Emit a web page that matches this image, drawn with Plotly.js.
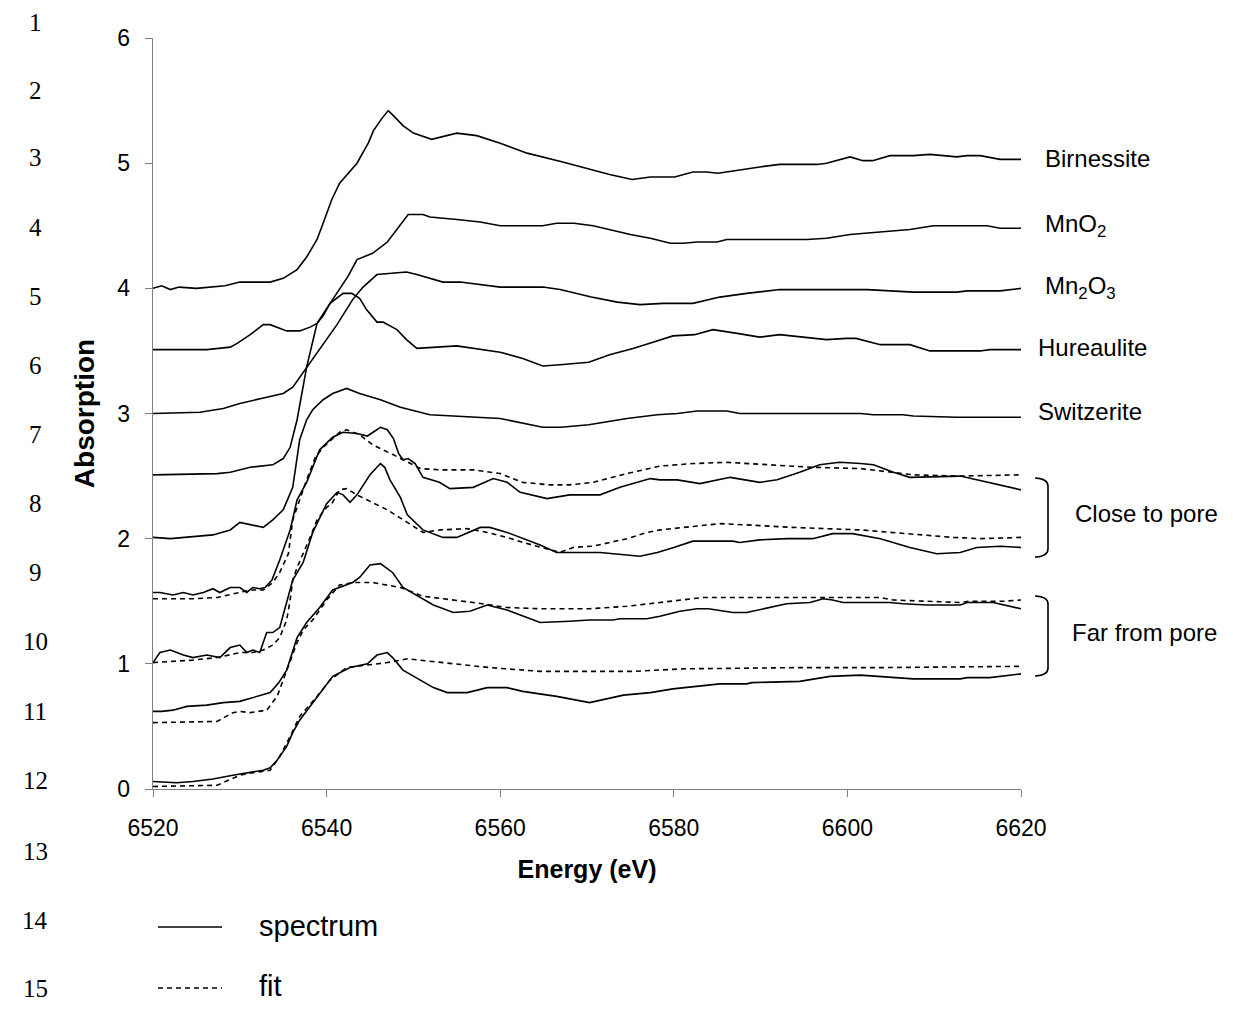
<!DOCTYPE html>
<html>
<head>
<meta charset="utf-8">
<script src="https://cdn.plot.ly/plotly-3.0.1.min.js"></script>
<style>
html,body{margin:0;padding:0;background:#fff;}
#chart{width:1233px;height:1014px;}
</style>
</head>
<body>
<div id="chart"></div>
<script>
// ---------- data (energy in eV, absorption offset as plotted) ----------
const birnE = [6520,6521,6522,6523,6525,6528.3,6530,6533.5,6535,6536.6,6537.7,6538.9,6539.6,6540.6,6541.5,6543.5,6544.8,6545.4,6546.4,6547.1,6547.7,6548.8,6550,6552.1,6555,6557.3,6560,6563.1,6567.2,6570,6572.6,6575.2,6577.3,6580.1,6582.2,6583.8,6585.1,6589.9,6592.2,6596.5,6597.6,6600.3,6601.8,6602.9,6604.9,6607.6,6609.5,6612.6,6613.8,6615.3,6617.6,6620];
const birnA = [4.00,4.02,3.99,4.01,4.00,4.02,4.05,4.05,4.08,4.15,4.25,4.39,4.52,4.71,4.84,5.00,5.16,5.26,5.36,5.42,5.38,5.30,5.24,5.19,5.24,5.22,5.16,5.08,5.01,4.96,4.91,4.87,4.89,4.89,4.93,4.93,4.92,4.97,4.99,4.99,5.00,5.05,5.02,5.02,5.06,5.06,5.07,5.05,5.06,5.06,5.03,5.03];

const mno2E = [6520,6526.2,6528.9,6529.7,6531.2,6532.7,6533.5,6535.4,6536.9,6538.1,6538.9,6539.6,6540.4,6541.5,6542.5,6543.5,6545.3,6547,6548.1,6549.4,6551.1,6551.9,6555,6557.7,6560,6564.9,6566.5,6568.5,6570.7,6572.6,6575,6577.3,6579.6,6581.1,6582.7,6585,6586.1,6595.3,6597.6,6600.3,6607.2,6609.9,6616.1,6617.6,6620];
const mno2A = [3.51,3.51,3.53,3.56,3.63,3.71,3.71,3.66,3.66,3.69,3.72,3.78,3.88,3.99,4.10,4.23,4.28,4.37,4.47,4.59,4.59,4.57,4.55,4.53,4.50,4.50,4.52,4.52,4.50,4.47,4.43,4.40,4.36,4.36,4.37,4.37,4.39,4.39,4.40,4.43,4.47,4.50,4.50,4.48,4.48];

const mn2o3E = [6520,6525.4,6528.1,6530,6533.1,6535,6536.1,6537.7,6539.2,6541.2,6543,6544.2,6545.8,6547.6,6549.2,6550.4,6553.4,6555.4,6560,6564.9,6566.9,6570.5,6573.5,6576.1,6578.8,6582.2,6585.3,6588.4,6592.2,6602.3,6605.3,6607.6,6612.6,6613.8,6617.6,6619,6620];
const mn2o3A = [3.00,3.01,3.04,3.08,3.13,3.16,3.21,3.37,3.51,3.71,3.91,4.01,4.11,4.12,4.13,4.11,4.05,4.05,4.01,4.01,3.99,3.93,3.89,3.87,3.88,3.88,3.93,3.96,3.99,3.99,3.98,3.97,3.97,3.98,3.98,3.99,4.00];

const hureE = [6520,6527.4,6528.9,6531.2,6533.8,6535,6535.8,6536.6,6537.7,6538.9,6540.4,6541.9,6542.9,6543.8,6544.6,6545.8,6546.5,6548.1,6549.2,6550.4,6555,6560,6562.6,6564.9,6566.9,6570.2,6572.6,6575.3,6577.6,6579.9,6582.4,6584.5,6587.3,6589.9,6592.2,6595.3,6597.6,6599.9,6601,6603.8,6607.2,6609.5,6615.3,6616.4,6620];
const hureA = [2.51,2.52,2.53,2.57,2.59,2.64,2.73,2.95,3.37,3.72,3.88,3.96,3.96,3.92,3.83,3.73,3.73,3.67,3.59,3.52,3.54,3.49,3.44,3.38,3.39,3.41,3.47,3.52,3.57,3.62,3.63,3.67,3.64,3.61,3.63,3.61,3.59,3.60,3.60,3.55,3.55,3.50,3.50,3.51,3.51];

const switE = [6520,6522,6526.9,6528.9,6530,6531.2,6532.7,6533.8,6535,6536.1,6536.9,6537.7,6538.4,6539.6,6540.7,6542.3,6543.8,6546.2,6548.5,6551.9,6556.9,6560,6564.9,6567,6570.2,6574.6,6578.1,6580.4,6582.7,6586.1,6587.6,6601.5,6603,6606.4,6607.6,6612.6,6620];
const switA = [2.01,2.00,2.03,2.07,2.13,2.11,2.09,2.15,2.23,2.41,2.79,2.95,3.03,3.11,3.16,3.20,3.16,3.11,3.05,2.99,2.97,2.96,2.89,2.89,2.91,2.96,2.99,3.00,3.02,3.02,3.00,3.00,2.99,2.99,2.98,2.97,2.97];

// close to pore, sample 1
const close1E = [6520,6520.8,6522.3,6523.5,6524.6,6525.8,6526.9,6527.7,6528.9,6530,6530.8,6531.5,6532.3,6532.9,6533.7,6534.6,6535.8,6536.6,6537.7,6539.2,6540.7,6541.9,6543.5,6544.7,6546.2,6547,6547.7,6548.3,6548.8,6549.4,6550.2,6551.1,6553,6554.2,6556.9,6559.2,6560.8,6562.3,6565.4,6568,6571.5,6573.8,6577.3,6578.4,6580.4,6583,6586.5,6589.9,6591.9,6594.5,6596.8,6599.1,6601.5,6603,6605.3,6607.2,6613,6616.8,6620];
const close1A = [1.57,1.57,1.55,1.57,1.55,1.57,1.60,1.57,1.61,1.61,1.57,1.61,1.60,1.61,1.67,1.83,2.07,2.31,2.45,2.71,2.81,2.85,2.84,2.82,2.89,2.87,2.80,2.68,2.63,2.64,2.60,2.49,2.45,2.40,2.41,2.48,2.45,2.37,2.32,2.35,2.35,2.41,2.48,2.47,2.47,2.44,2.49,2.45,2.47,2.53,2.59,2.61,2.60,2.59,2.53,2.49,2.50,2.44,2.39];
const close1FitE = [6520,6524.6,6527.4,6530,6531.2,6532.7,6533.8,6534.6,6535.6,6536.1,6537.7,6538.7,6539.6,6541.5,6542.3,6543.8,6545.3,6547.7,6549.3,6550.8,6553.1,6556.9,6560,6562.6,6565.7,6568,6570.7,6574.6,6578.4,6582.2,6586.1,6591.4,6596,6601.5,6605.3,6607.6,6613,6620];
const close1FitA = [1.52,1.52,1.53,1.57,1.59,1.59,1.65,1.73,1.88,2.15,2.47,2.65,2.73,2.85,2.87,2.83,2.75,2.67,2.61,2.56,2.55,2.55,2.52,2.45,2.43,2.43,2.45,2.52,2.58,2.60,2.61,2.59,2.57,2.56,2.53,2.51,2.50,2.51];

// close to pore, sample 2
const close2E = [6520,6520.8,6522,6523.5,6524.6,6526.2,6527.7,6528.9,6530,6530.8,6531.5,6532.3,6533.1,6533.8,6534.6,6535.4,6536.1,6537.3,6538.4,6540,6541.2,6541.9,6542.7,6543.5,6544.2,6545,6546.2,6546.7,6547.3,6548.5,6549.3,6551.1,6553.4,6555,6557.7,6558.8,6560.8,6562.6,6564.6,6566.5,6568.4,6571.5,6576.1,6578.1,6580,6582.2,6586.8,6587.6,6589.9,6593,6596,6598.3,6600.6,6603.8,6607.2,6610.3,6613,6614.9,6617.6,6620];
const close2A = [1.01,1.09,1.11,1.07,1.05,1.07,1.05,1.13,1.15,1.09,1.11,1.09,1.25,1.25,1.29,1.49,1.67,1.81,2.05,2.28,2.37,2.35,2.29,2.35,2.43,2.51,2.60,2.57,2.47,2.33,2.19,2.07,2.01,2.01,2.09,2.09,2.05,2.00,1.95,1.89,1.89,1.89,1.86,1.89,1.93,1.98,1.98,1.97,1.99,2.00,2.00,2.04,2.04,2.00,1.93,1.88,1.89,1.93,1.94,1.93];
const close2FitE = [6520,6524.6,6527.4,6530,6531.5,6532.7,6533.8,6534.6,6535.4,6535.8,6536.1,6536.6,6538.1,6538.9,6540,6540.6,6541.5,6542.3,6543.5,6544.7,6547,6549.3,6551.1,6553.1,6556.2,6558.5,6560.8,6562.6,6565.4,6566.9,6568.4,6570.7,6574.6,6576.9,6578.4,6582.2,6585.3,6588.4,6593.7,6601.5,6605.3,6612.2,6615.3,6620];
const close2FitA = [1.01,1.03,1.05,1.09,1.09,1.11,1.15,1.21,1.35,1.51,1.67,1.77,2.01,2.15,2.25,2.28,2.39,2.40,2.35,2.31,2.23,2.13,2.05,2.07,2.08,2.05,2.01,1.97,1.92,1.89,1.93,1.94,2.00,2.05,2.07,2.10,2.12,2.11,2.09,2.07,2.05,2.01,2.00,2.01];

// far from pore, sample 1
const far1E = [6520,6521,6522.3,6523.9,6526.2,6528.1,6530,6532,6533.5,6534.5,6535.4,6536.6,6537.7,6539.2,6540.7,6543,6543.8,6545,6546.2,6547.6,6548.8,6552.3,6554.6,6556.5,6558.5,6560.8,6564.6,6568,6570.3,6573,6573.8,6576.9,6578.4,6580.7,6582.7,6584,6586.8,6588.4,6591.1,6593,6595.7,6597.2,6598.3,6599.5,6604.9,6606.4,6609.2,6613,6613.8,6616.8,6620];
const far1A = [0.62,0.62,0.63,0.66,0.67,0.69,0.70,0.74,0.77,0.85,0.95,1.21,1.33,1.45,1.59,1.65,1.69,1.79,1.80,1.73,1.61,1.47,1.41,1.42,1.47,1.43,1.33,1.34,1.35,1.35,1.36,1.36,1.38,1.42,1.44,1.44,1.41,1.41,1.45,1.48,1.49,1.52,1.51,1.49,1.49,1.48,1.47,1.47,1.49,1.49,1.44];
const far1FitE = [6520,6527.4,6529.2,6530,6531.2,6533.1,6534.3,6535.4,6536.6,6537.3,6538.4,6540,6541.5,6543,6545.3,6548.5,6551.1,6556.9,6560.8,6564.6,6570.3,6574.6,6578.4,6582.2,6583.4,6597.6,6603.8,6605.3,6613,6614.1,6618,6620];
const far1FitA = [0.53,0.54,0.61,0.62,0.61,0.63,0.74,0.95,1.17,1.27,1.35,1.51,1.63,1.65,1.65,1.61,1.54,1.49,1.45,1.44,1.44,1.46,1.49,1.52,1.53,1.53,1.53,1.51,1.49,1.50,1.50,1.51];

// far from pore, sample 2
const far2E = [6520,6522.7,6524.6,6526.9,6529.2,6530.8,6532.7,6533.5,6534.3,6535.4,6536.1,6536.9,6538.1,6539.2,6540.7,6542.7,6544.7,6545.8,6547,6547.6,6548.8,6550.8,6552.3,6553.9,6556.2,6558.5,6560.8,6562.6,6566.5,6570.3,6571,6574.2,6577.3,6579.9,6585.3,6588.4,6589,6594.5,6598,6601.5,6607.6,6613,6613.8,6616.4,6620];
const far2A = [0.06,0.05,0.06,0.08,0.11,0.13,0.15,0.17,0.23,0.34,0.45,0.55,0.66,0.77,0.90,0.97,1.00,1.07,1.09,1.05,0.95,0.87,0.81,0.77,0.77,0.81,0.81,0.78,0.74,0.69,0.70,0.75,0.77,0.80,0.84,0.84,0.85,0.86,0.90,0.91,0.88,0.88,0.89,0.89,0.92];
const far2FitE = [6520,6527.4,6530,6531.5,6533.5,6534.6,6535.8,6536.9,6538.9,6540.4,6542.3,6544.7,6547,6549.3,6553.1,6558.8,6564.6,6570.3,6575.3,6581.1,6594.5,6604.1,6620];
const far2FitA = [0.02,0.03,0.11,0.13,0.15,0.26,0.42,0.58,0.74,0.87,0.97,0.99,1.01,1.04,1.01,0.97,0.94,0.94,0.94,0.96,0.97,0.97,0.98];

const xTickVals = [6520,6540,6560,6580,6600,6620];
const yTickVals = [0,1,2,3,4,5,6];
const refLabels = [
  {text:'Birnessite', y:5.04, x:1.0253},
  {text:'MnO<sub>2</sub>', y:4.50, x:1.0253},
  {text:'Mn<sub>2</sub>O<sub>3</sub>', y:4.01, x:1.0253},
  {text:'Hureaulite', y:3.53, x:1.0173},
  {text:'Switzerite', y:3.02, x:1.0173}
];
const groupLabels = [
  {text:'Close to pore', y:2.20, x:1.0599},
  {text:'Far from pore', y:1.25, x:1.0565}
];
const legendNames = ['spectrum','fit'];
const lineNumbers = ['1','2','3','4','5','6','7','8','9','10','11','12','13','14','15'];
const lineNumberPx = [22,90,158,227,296,365,434,503,572,641,711,780,851,920,988];

// ---------- plot ----------
const FONT = 'Liberation Sans, Arial, Helvetica, sans-serif';
const solid = {color:'#000', width:1.6};
const dashed = {color:'#000', width:1.6, dash:'5px,4px'};
function tr(x, y, ln){ return {x:x, y:y, type:'scatter', mode:'lines', line:ln, showlegend:false, hoverinfo:'skip'}; }

const traces = [
  tr(birnE, birnA, solid), tr(mno2E, mno2A, solid), tr(mn2o3E, mn2o3A, solid),
  tr(hureE, hureA, solid), tr(switE, switA, solid),
  tr(close1E, close1A, solid), tr(close1FitE, close1FitA, dashed),
  tr(close2E, close2A, solid), tr(close2FitE, close2FitA, dashed),
  tr(far1E, far1A, solid), tr(far1FitE, far1FitA, dashed),
  tr(far2E, far2A, solid), tr(far2FitE, far2FitA, dashed)
];

const W = 1233, H = 1014, ML = 153, MR = 212, MT = 38, MB = 225;
const plotH = H - MT - MB, plotW = W - ML - MR;
const px2paperX = p => (p - ML) / plotW;
const px2paperY = p => (H - MB - p) / plotH;

const annotations = [];
refLabels.forEach(l => annotations.push({text:l.text, xref:'paper', yref:'y', x:l.x, y:l.y, xanchor:'left', yanchor:'middle', showarrow:false, font:{family:FONT, size:24, color:'#000'}}));
groupLabels.forEach(l => annotations.push({text:l.text, xref:'paper', yref:'y', x:l.x, y:l.y, xanchor:'left', yanchor:'middle', showarrow:false, font:{family:FONT, size:24, color:'#000'}}));
// legend text
annotations.push({text:legendNames[0], xref:'paper', yref:'paper', x:px2paperX(257), y:px2paperY(926), xanchor:'left', yanchor:'middle', showarrow:false, font:{family:FONT, size:29, color:'#000'}});
annotations.push({text:legendNames[1], xref:'paper', yref:'paper', x:px2paperX(257), y:px2paperY(986), xanchor:'left', yanchor:'middle', showarrow:false, font:{family:FONT, size:29, color:'#000'}});
// manuscript line numbers
lineNumbers.forEach((t,i) => annotations.push({text:t, xref:'paper', yref:'paper', x:px2paperX(35), y:px2paperY(lineNumberPx[i]), xanchor:'center', yanchor:'middle', showarrow:false, font:{family:'Liberation Serif, Times New Roman, serif', size:25, color:'#000'}}));

const bx0 = px2paperX(1035), bx1 = px2paperX(1048);
const shapes = [
  {type:'path', xref:'paper', yref:'y', path:`M ${bx0},2.485 Q ${bx1},2.48 ${bx1},2.42 L ${bx1},1.92 Q ${bx1},1.858 ${bx0},1.853`, line:{color:'#000', width:1.6}},
  {type:'path', xref:'paper', yref:'y', path:`M ${bx0},1.542 Q ${bx1},1.537 ${bx1},1.48 L ${bx1},0.965 Q ${bx1},0.908 ${bx0},0.903`, line:{color:'#000', width:1.6}},
  {type:'line', xref:'paper', yref:'paper', x0:px2paperX(158), x1:px2paperX(222), y0:px2paperY(927), y1:px2paperY(927), line:{color:'#000', width:1.6}},
  {type:'line', xref:'paper', yref:'paper', x0:px2paperX(158), x1:px2paperX(222), y0:px2paperY(988), y1:px2paperY(988), line:{color:'#000', width:1.6, dash:'5px,4px'}}
];

const layout = {
  width:W, height:H,
  margin:{l:ML, r:MR, t:MT, b:MB, pad:0},
  paper_bgcolor:'#fff', plot_bgcolor:'#fff',
  showlegend:false,
  font:{family:FONT, size:23, color:'#000'},
  xaxis:{range:[6520,6620], tickmode:'array', tickvals:xTickVals, ticks:'outside', ticklen:7, tickcolor:'#808080',
         showline:true, linecolor:'#808080', linewidth:1.3, showgrid:false, zeroline:false,
         tickfont:{family:FONT, size:23}, ticklabelstandoff:11,
         title:{text:'<b>Energy (eV)</b>', font:{family:FONT, size:25}, standoff:20}, automargin:false},
  yaxis:{range:[0,6], tickmode:'array', tickvals:yTickVals, ticks:'outside', ticklen:7, tickcolor:'#808080',
         showline:true, linecolor:'#808080', linewidth:1.3, showgrid:false, zeroline:false,
         tickfont:{family:FONT, size:23}, ticklabelstandoff:10,
         title:{text:'<b>Absorption</b>', font:{family:FONT, size:28}, standoff:14}, automargin:false},
  annotations:annotations,
  shapes:shapes
};

Plotly.newPlot('chart', traces, layout, {staticPlot:true, displayModeBar:false});
</script>
</body>
</html>
